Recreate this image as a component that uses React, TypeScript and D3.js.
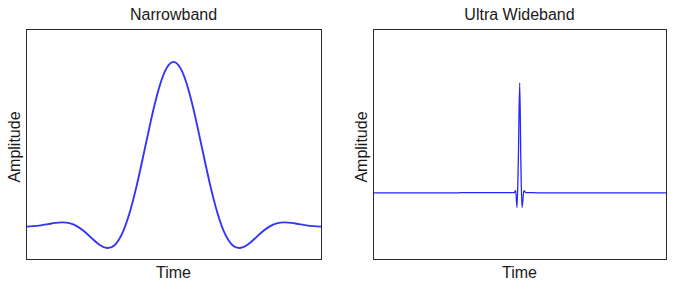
import React from "react";
import * as d3 from "d3";

// Narrowband pulse (time 0..100, amplitude), read every 2.5 time units
const nbTime = [0, 2.5, 5, 7.5, 10, 12.5, 15, 17.5, 20, 22.5, 25, 27.5, 30, 32.5, 35, 37.5, 40, 42.5, 45, 47.5, 50,
  52.5, 55, 57.5, 60, 62.5, 65, 67.5, 70, 72.5, 75, 77.5, 80, 82.5, 85, 87.5, 90, 92.5, 95, 97.5, 100];
const nbAmp = [-0.003, 0.0, 0.005, 0.012, 0.02, 0.023, 0.017, -0.003, -0.036, -0.077, -0.115, -0.133, -0.116, -0.049, 0.074, 0.245, 0.448, 0.656, 0.835, 0.957, 1.0,
  0.957, 0.835, 0.656, 0.448, 0.245, 0.074, -0.049, -0.116, -0.133, -0.115, -0.077, -0.036, -0.003, 0.017, 0.023, 0.02, 0.012, 0.005, 0.0, -0.003];

// Ultra wideband pulse
const uwbTime = [0, 29.4, 29.6, 48.2, 48.7, 49.15, 49.6, 50.07, 50.45, 50.85, 51.5, 52.2, 55.2, 55.4, 100];
const uwbAmp = [0, 0, 0.004, 0.004, 0.021, -0.132, 0.3, 1.0, 0.3, -0.132, 0.021, 0.004, 0.004, 0, 0];

const titles = ["Narrowband", "Ultra Wideband"];
const xLabel = "Time";
const yLabel = "Amplitude";

const FONT = "'Liberation Sans', Arial, sans-serif";

function Panel({ x0, x1, y0, y1, title, time, amp, yDomain, curve, color, width }: any) {
  const xs = d3.scaleLinear().domain([0, 100]).range([x0, x1]);
  const ys = d3.scaleLinear().domain(yDomain).range([y1, y0]);
  const pts = time.map((t: number, i: number) => [t, amp[i]]);
  const line = d3.line<number[]>().x((d) => xs(d[0])).y((d) => ys(d[1])).curve(curve);
  const cx = (x0 + x1) / 2;
  const cy = (y0 + y1) / 2;
  return (
    <g>
      <path d={line(pts) || ""} fill="none" stroke={color} strokeWidth={width} strokeLinejoin="round" />
      <rect x={x0 + 0.5} y={y0 + 0.5} width={x1 - x0} height={y1 - y0} fill="none" stroke="#2a2a2a" strokeWidth={1} />
      <text x={cx} y={19.5} textAnchor="middle" fontFamily={FONT} fontSize={16} fill="#1a1a1a">{title}</text>
      <text x={cx} y={277.5} textAnchor="middle" fontFamily={FONT} fontSize={16} fill="#1a1a1a">{xLabel}</text>
      <text transform={`translate(${x0 - 6},${cy + 3}) rotate(-90)`} textAnchor="middle" fontFamily={FONT} fontSize={16} fill="#1a1a1a">{yLabel}</text>
    </g>
  );
}

export default function App() {
  return (
    <svg width={676} height={287} style={{ position: "absolute", left: 0, top: 0, background: "#fff" }}>
      <rect width={676} height={287} fill="#fff" />
      <Panel x0={26} x1={321} y0={29} y1={259} title={titles[0]} time={nbTime} amp={nbAmp}
        yDomain={[-0.2, 1.2]} curve={d3.curveNatural} color="#3535f8" width={1.9} />
      <Panel x0={373} x1={666} y0={29} y1={259} title={titles[1]} time={uwbTime} amp={uwbAmp}
        yDomain={[-0.6, 1.49]} curve={d3.curveMonotoneX} color="#2424ff" width={1.3} />
    </svg>
  );
}
